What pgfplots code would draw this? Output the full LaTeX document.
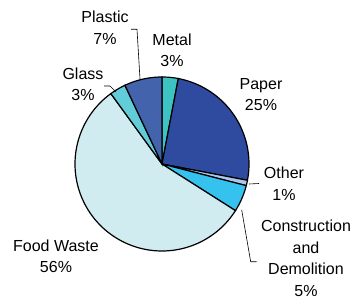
\documentclass[border=0pt]{standalone}
\usepackage{pgfplots}
\pgfplotsset{compat=1.18}
\usepackage{fontspec}
\setmainfont{Liberation Sans}
\definecolor{metalc}{HTML}{3EC3C3}
\definecolor{paperc}{HTML}{2E4B9F}
\definecolor{otherc}{HTML}{A8C8EE}
\definecolor{constc}{HTML}{35C2EE}
\definecolor{foodc}{HTML}{D0ECF0}
\definecolor{glassc}{HTML}{62CCD8}
\definecolor{plasticc}{HTML}{4363AC}
\begin{document}
\begin{tikzpicture}
\begin{axis}[axis lines=none, scale only axis, width=356pt, height=300pt,
  xmin=0, xmax=356, ymin=-300, ymax=0, clip=false]
% slices: percentages Metal 3, Paper 25, Other 1, Construction 5, Food 56, Glass 3, Plastic 7
% start at 90 deg, clockwise, 3.6 deg per percent
\pgfplotsset{every axis plot/.append style={draw=black, line width=1.2pt, samples=40, variable=\t}}
\addplot[fill=metalc, domain=79.2:90] ({162+87*cos(\t)},{-164+87*sin(\t)}) -- (axis cs:162,-164) -- cycle;
\addplot[fill=paperc, domain=-10.8:79.2] ({162+87*cos(\t)},{-164+87*sin(\t)}) -- (axis cs:162,-164) -- cycle;
\addplot[fill=otherc, domain=-14.4:-10.8] ({162+87*cos(\t)},{-164+87*sin(\t)}) -- (axis cs:162,-164) -- cycle;
\addplot[fill=constc, domain=-32.4:-14.4] ({162+87*cos(\t)},{-164+87*sin(\t)}) -- (axis cs:162,-164) -- cycle;
\addplot[fill=foodc, domain=-234:-32.4, samples=100] ({162+87*cos(\t)},{-164+87*sin(\t)}) -- (axis cs:162,-164) -- cycle;
\addplot[fill=glassc, domain=115.2:126] ({162+87*cos(\t)},{-164+87*sin(\t)}) -- (axis cs:162,-164) -- cycle;
\addplot[fill=plasticc, domain=90:115.2] ({162+87*cos(\t)},{-164+87*sin(\t)}) -- (axis cs:162,-164) -- cycle;
% leader lines
\draw[black, line width=0.6pt] (axis cs:131,-29.3) -- (axis cs:137,-29.3) -- (axis cs:140,-79);
\draw[black, line width=0.6pt] (axis cs:104,-86) -- (axis cs:110,-86) -- (axis cs:116,-92);
\draw[black, line width=0.6pt] (axis cs:249,-184) -- (axis cs:259,-183.5);
\draw[black, line width=0.6pt] (axis cs:241.7,-210) -- (axis cs:250.7,-261.7) -- (axis cs:256.7,-261.7);
% labels
\tikzset{lab/.style={font=\fontsize{16}{21.5}\selectfont, align=center, inner sep=0pt}}
\node[lab] at (axis cs:105,-28) {Plastic\\7\%};
\node[lab] at (axis cs:172,-50.5) {Metal\\3\%};
\node[lab] at (axis cs:83,-84.5) {Glass\\3\%};
\node[lab] at (axis cs:261,-94.5) {Paper\\25\%};
\node[lab] at (axis cs:284,-183.5) {Other\\1\%};
\node[lab] at (axis cs:306,-258.5) {Construction\\and\\Demolition\\5\%};
\node[lab] at (axis cs:56,-256.5) {Food Waste\\56\%};
\end{axis}
\pgfresetboundingbox
\path (current axis.south west) rectangle (current axis.north east);
\end{tikzpicture}
\end{document}
